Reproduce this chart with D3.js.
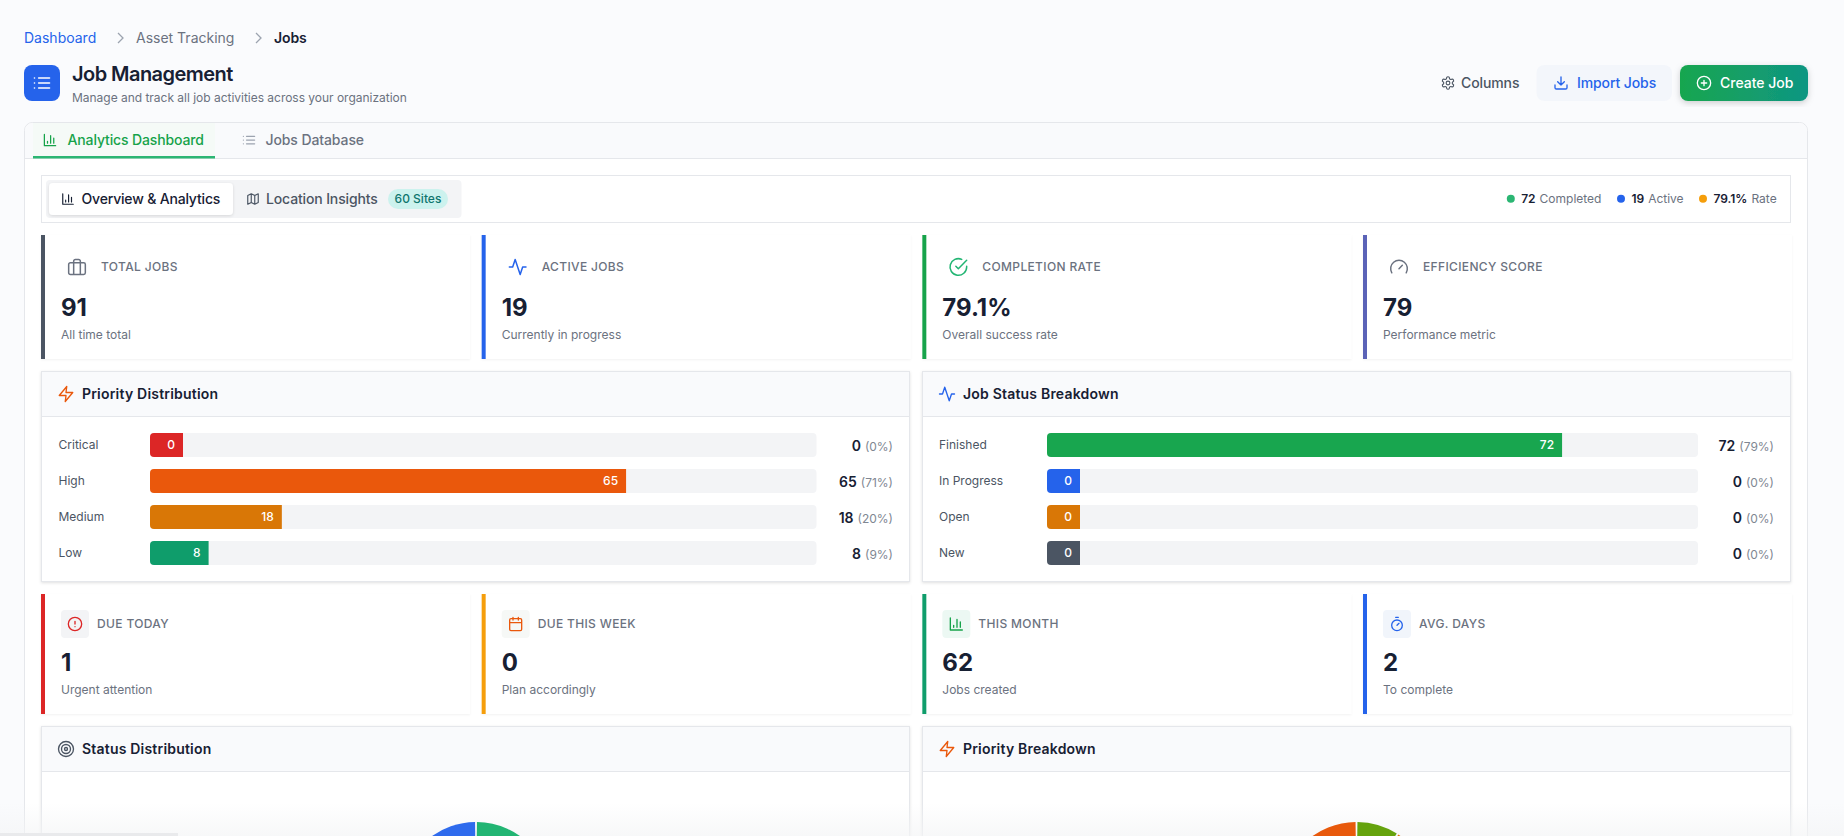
<!DOCTYPE html>
<html>
<head>
<meta charset="utf-8">
<title>Job Management</title>
<script src="https://cdn.jsdelivr.net/npm/d3@7"></script>
<style>
  html, body { margin: 0; padding: 0; overflow: hidden; background: #fafbfd; }
  svg { display: block; font-family: Inter, "Noto Sans", sans-serif; }
</style>
</head>
<body>
<div id="page"></div>
<script>
// ===== chart data
var crumbs = ["Dashboard", "Asset Tracking", "Jobs"];

var kpiLabels = ["TOTAL JOBS", "ACTIVE JOBS", "COMPLETION RATE", "EFFICIENCY SCORE"];
var kpiValues = ["91", "19", "79.1%", "79"];
var kpiNotes = ["All time total", "Currently in progress", "Overall success rate", "Performance metric"];

var dueLabels = ["DUE TODAY", "DUE THIS WEEK", "THIS MONTH", "AVG. DAYS"];
var dueValues = ["1", "0", "62", "2"];
var dueNotes = ["Urgent attention", "Plan accordingly", "Jobs created", "To complete"];

var priorityNames = ["Critical", "High", "Medium", "Low"];
var priorityCounts = [0, 65, 18, 8];
var priorityShares = ["0%", "71%", "20%", "9%"];

var statusNames = ["Finished", "In Progress", "Open", "New"];
var statusCounts = [72, 0, 0, 0];
var statusShares = ["79%", "0%", "0%", "0%"];

var totalJobs = 91;

var statusPieNames = ["Completed", "Active"];
var statusPieValues = [72, 19];
var priorityPieNames = ["Low", "Medium", "High"];
var priorityPieValues = [8, 18, 65];

var summaryValues = ["72", "19", "79.1%"];
var summaryNames = ["Completed", "Active", "Rate"];

// ===== colours
var kpiColors = ["#4b5563", "#2563eb", "#16a34a", "#5b63b7"];
var dueColors = ["#dc2626", "#f59e0b", "#0f9d6b", "#2563eb"];
var dueIconColors = ["#dc2626", "#ea580c", "#16a34a", "#2563eb"];
var dueBoxColors = ["#f3f4f6", "#f6f8f6", "#ecf8f3", "#f1f5fb"];
var priorityColors = ["#dc2626", "#ea580c", "#d97706", "#0f9d6b"];
var statusColors = ["#18a64f", "#2563eb", "#d97706", "#4b5563"];
var statusPieColors = ["#22b573", "#2f6bed"];
var priorityPieColors = ["#65a30d", "#d97706", "#e8590c"];
var summaryColors = ["#2bb673", "#2563eb", "#f59e0b"];
var ink = "#172033", muted = "#6b7280", soft = "#4b5563", line = "#e5e7eb";

// ===== lucide style icons
var icons = {
  list: "M8 6h13M8 12h13M8 18h13M3 6h.01M3 12h.01M3 18h.01",
  bars: "M3 3v18h18M18 17V9M13 17V5M8 17v-3",
  map: "M9 3 3 6v15l6-3 6 3 6-3V3l-6 3-6-3zM9 3v15M15 6v15",
  gear: "M12.22 2h-.44a2 2 0 0 0-2 2v.18a2 2 0 0 1-1 1.73l-.43.25a2 2 0 0 1-2 0l-.15-.08a2 2 0 0 0-2.73.73l-.22.38a2 2 0 0 0 .73 2.73l.15.1a2 2 0 0 1 1 1.72v.51a2 2 0 0 1-1 1.74l-.15.09a2 2 0 0 0-.73 2.73l.22.38a2 2 0 0 0 2.73.73l.15-.08a2 2 0 0 1 2 0l.43.25a2 2 0 0 1 1 1.73V20a2 2 0 0 0 2 2h.44a2 2 0 0 0 2-2v-.18a2 2 0 0 1 1-1.73l.43-.25a2 2 0 0 1 2 0l.15.08a2 2 0 0 0 2.73-.73l.22-.39a2 2 0 0 0-.73-2.73l-.15-.08a2 2 0 0 1-1-1.74v-.5a2 2 0 0 1 1-1.74l.15-.09a2 2 0 0 0 .73-2.73l-.22-.38a2 2 0 0 0-2.73-.73l-.15.08a2 2 0 0 1-2 0l-.43-.25a2 2 0 0 1-1-1.73V4a2 2 0 0 0-2-2zM12 9a3 3 0 1 0 0 6 3 3 0 0 0 0-6z",
  download: "M21 15v4a2 2 0 0 1-2 2H5a2 2 0 0 1-2-2v-4M7 10l5 5 5-5M12 15V3",
  plus: "M12 2a10 10 0 1 0 0 20 10 10 0 0 0 0-20zM8 12h8M12 8v8",
  briefcase: "M4 7h16a2 2 0 0 1 2 2v10a2 2 0 0 1-2 2H4a2 2 0 0 1-2-2V9a2 2 0 0 1 2-2zM16 21V5a2 2 0 0 0-2-2h-4a2 2 0 0 0-2 2v16",
  activity: "M22 12h-4l-3 9L9 3l-3 9H2",
  check: "M22 11.08V12a10 10 0 1 1-5.93-9.14M22 4 12 14.01l-3-3",
  gauge: "M12 14l4-4M3.34 19a10 10 0 1 1 17.32 0",
  zap: "M13 2 3 14h9l-1 8 10-12h-9l1-8z",
  alert: "M12 2a10 10 0 1 0 0 20 10 10 0 0 0 0-20zM12 8v4M12 16h.01",
  calendar: "M5 4h14a2 2 0 0 1 2 2v14a2 2 0 0 1-2 2H5a2 2 0 0 1-2-2V6a2 2 0 0 1 2-2zM16 2v4M8 2v4M3 10h18",
  timer: "M10 2h4M12 14l3-3M12 22a8 8 0 1 0 0-16 8 8 0 0 0 0 16z",
  target: "M12 2a10 10 0 1 0 0 20 10 10 0 0 0 0-20zM12 6a6 6 0 1 0 0 12 6 6 0 0 0 0-12zM12 10a2 2 0 1 0 0 4 2 2 0 0 0 0-4z"
};

var width = 1844, height = 836;
var svg = d3.select("#page").append("svg").attr("width", width).attr("height", height);
var defs = svg.append("defs");

// ===== helpers
function text(x, y, str, size, weight, color, anchor, spacing) {
  return svg.append("text")
    .attr("x", x).attr("y", y).attr("dy", "0.35em")
    .attr("font-size", size).attr("font-weight", weight)
    .attr("fill", color).attr("text-anchor", anchor || "start")
    .attr("letter-spacing", spacing || null)
    .text(str);
}
function box(x, y, w, h, fill, r, stroke) {
  return svg.append("rect")
    .attr("x", x).attr("y", y).attr("width", w).attr("height", h)
    .attr("rx", r || 0).attr("fill", fill)
    .attr("stroke", stroke || "none");
}
function icon(name, cx, cy, size, color, sw) {
  var k = size / 24;
  svg.append("path")
    .attr("d", icons[name])
    .attr("transform", "translate(" + (cx - size / 2) + "," + (cy - size / 2) + ") scale(" + k + ")")
    .attr("fill", "none").attr("stroke", color)
    .attr("stroke-width", sw || 2)
    .attr("stroke-linecap", "round").attr("stroke-linejoin", "round");
}
function shadow(id, dy, blur, op) {
  var f = defs.append("filter").attr("id", id)
    .attr("x", "-5%").attr("y", "-10%").attr("width", "110%").attr("height", "125%");
  f.append("feDropShadow").attr("dx", 0).attr("dy", dy).attr("stdDeviation", blur)
    .attr("flood-color", "#000").attr("flood-opacity", op);
}
shadow("cardShadow", 1, 1.5, 0.12);
shadow("softShadow", 1, 1, 0.05);
shadow("btnShadow", 2, 3, 0.18);

// ===== breadcrumb
text(24, 38, crumbs[0], 14, 400, "#2563eb");
d3.range(2).forEach(function (i) {
  var cx = [120, 258][i];
  svg.append("path").attr("d", "M" + (cx - 2) + " 33l5 5-5 5")
    .attr("fill", "none").attr("stroke", "#9ca3af").attr("stroke-width", 1.3);
});
text(136, 38, crumbs[1], 14, 400, muted);
text(274, 38, crumbs[2], 14, 600, ink, "start", "-0.1px");

// ===== page heading
box(24, 65, 36, 36, "#2563eb", 8);
icon("list", 42, 83, 20, "#fff", 2);
text(72, 74, "Job Management", 20, 600, ink, "start", "-0.55px");
text(72, 98, "Manage and track all job activities across your organization", 12, 400, muted, "start", "-0.02px");

// buttons
icon("gear", 1448, 83, 15, soft, 1.8);
text(1461, 83, "Columns", 14, 500, soft, "start", "-0.1px");
box(1536.5, 65, 135.5, 36, "#f3f6fb", 8);
icon("download", 1561, 83, 16, "#2563eb", 2);
text(1577, 83, "Import Jobs", 14, 500, "#2563eb", "start", "-0.1px");

var grad = defs.append("linearGradient").attr("id", "createGrad");
grad.append("stop").attr("offset", "0%").attr("stop-color", "#18a64f");
grad.append("stop").attr("offset", "100%").attr("stop-color", "#0f9682");
box(1680, 65, 128, 36, "url(#createGrad)", 8).attr("filter", "url(#btnShadow)");
icon("plus", 1704, 83, 16, "#fff", 2);
text(1720, 83, "Create Job", 14, 500, "#fff");

// ===== tab card
box(24.5, 122.5, 1783, 760, "#fff", 8, line);
svg.append("path").attr("d", "M25 158V131a8 8 0 0 1 8-8H1799a8 8 0 0 1 8 8V158z").attr("fill", "#f9fafc");
box(24, 158, 1784, 1, line);
box(33, 123, 182, 35, "#f5faf7");
box(33, 156, 182, 2.5, "#2bb673");
icon("bars", 50, 140, 15, "#16a34a", 2);
text(67.5, 140, "Analytics Dashboard", 14, 500, "#16a34a", "start", "-0.13px");
icon("list", 249, 140, 15, "#9ca3af", 2);
text(265.5, 140, "Jobs Database", 14, 500, muted, "start", "-0.1px");

// ===== toolbar
box(41.5, 175.5, 1749, 47, "#fff", 0, line);
box(46, 180, 415.5, 38, "#f3f4f6", 4);
box(49, 183, 184, 32, "#fff", 4).attr("filter", "url(#cardShadow)");
icon("bars", 68, 199, 14, ink, 2);
text(81.5, 199, "Overview & Analytics", 14, 500, ink, "start", "-0.18px");
icon("map", 253, 199, 14, soft, 2);
text(266, 199, "Location Insights", 14, 500, soft, "start", "-0.14px");
box(388, 189, 60, 20, "#ccf2ee", 10);
text(418, 199, "60 Sites", 12, 500, "#0f766e", "middle");

// summary chips in the toolbar
var summaryDots = [1510.8, 1621, 1703];
summaryValues.forEach(function (v, i) {
  svg.append("circle").attr("cx", summaryDots[i]).attr("cy", 198.7).attr("r", 4).attr("fill", summaryColors[i]);
  var t = text(summaryDots[i] + 10.4, 198.7, v, 12, 600, ink);
  t.append("tspan").attr("dx", 4).attr("font-weight", 400).attr("fill", muted).text(summaryNames[i]);
});

// ===== kpi rows
var columnScale = d3.scalePoint().domain(d3.range(4)).range([41, 1363]);

function kpiRow(top, bottom, labels, values, notes, colors, rowOpts) {
  labels.forEach(function (label, i) {
    var x = columnScale(i);
    box(x, top, 429, bottom - top, "#fff").attr("filter", "url(#softShadow)");
    box(x, top, 4, bottom - top, colors[i]);
    if (rowOpts.boxes) {
      box(x + 20, top + 16, 28, 28, rowOpts.boxes[i], 4);
      icon(rowOpts.icons[i], x + 34, top + 30, 16, rowOpts.iconColors[i], 2);
    } else {
      icon(rowOpts.icons[i], x + 36, top + 32, 20, rowOpts.iconColors[i], 1.8);
    }
    text(x + rowOpts.labelOffset, top + (rowOpts.boxes ? 30 : 32), label, 12, 500, muted, "start", "0.35px");
    text(x + 20, top + (rowOpts.boxes ? 69 : 73), values[i], 24, 700, ink);
    text(x + 20, top + (rowOpts.boxes ? 96 : 100), notes[i], 12, 400, muted);
  });
}

kpiRow(235, 359, kpiLabels, kpiValues, kpiNotes, kpiColors, {
  icons: ["briefcase", "activity", "check", "gauge"],
  iconColors: ["#6b7280", "#2563eb", "#22b573", "#6b7280"],
  labelOffset: 60
});
kpiRow(594, 714, dueLabels, dueValues, dueNotes, dueColors, {
  icons: ["alert", "calendar", "bars", "timer"],
  iconColors: dueIconColors,
  boxes: dueBoxColors,
  labelOffset: 56
});

// ===== panels
function panel(x, top, w, bottom, title, iconName, iconColor) {
  box(x + 0.5, top + 0.5, w, bottom - top, "#fff", 0, line).attr("filter", "url(#cardShadow)");
  box(x + 1, top + 1, w - 1, 44, "#f9fafc");
  box(x, top + 45, w + 1, 1, line);
  icon(iconName, x + 25, top + 23, 18, iconColor, 1.8);
  text(x + 41, top + 23, title, 14, 600, ink, "start", "0.2px");
}

panel(41, 371, 868, 581, "Priority Distribution", "zap", "#ea580c");
panel(922, 371, 868, 581, "Job Status Breakdown", "activity", "#2563eb");
panel(41, 726, 868, 900, "Status Distribution", "target", "#4b5563");
panel(922, 726, 868, 900, "Priority Breakdown", "zap", "#ea580c");

// ===== horizontal bars
function barChart(id, names, counts, shares, colors, labelX, trackX0, trackX1, endX) {
  var x = d3.scaleLinear().domain([0, totalJobs]).range([0, trackX1 - trackX0]);
  var y = d3.scaleBand().domain(names).range([433, 565]).paddingInner(1 / 3);
  var h = y.bandwidth();
  var minBar = 33; // the page keeps room for the number in empty bars
  var rows = svg.append("g").selectAll("g").data(names).enter().append("g")
    .attr("transform", function (d) { return "translate(0," + y(d) + ")"; });

  rows.append("clipPath").attr("id", function (d, i) { return id + i; })
    .append("rect").attr("x", trackX0).attr("width", trackX1 - trackX0).attr("height", h).attr("rx", 4);
  rows.append("rect").attr("x", trackX0).attr("width", trackX1 - trackX0).attr("height", h)
    .attr("rx", 4).attr("fill", "#f3f4f6");
  rows.append("rect").attr("x", trackX0).attr("height", h)
    .attr("width", function (d, i) { return Math.max(minBar, x(counts[i])); })
    .attr("fill", function (d, i) { return colors[i]; })
    .attr("clip-path", function (d, i) { return "url(#" + id + i + ")"; });
  rows.append("text").attr("x", labelX).attr("y", h / 2).attr("dy", "0.35em")
    .attr("font-size", 12).attr("fill", soft).text(function (d) { return d; });
  rows.append("text")
    .attr("x", function (d, i) { return trackX0 + Math.max(minBar, x(counts[i])) - 8; })
    .attr("y", h / 2).attr("dy", "0.35em").attr("text-anchor", "end")
    .attr("font-size", 12).attr("font-weight", 500).attr("fill", "#fff")
    .text(function (d, i) { return counts[i]; });

  var end = rows.append("text").attr("x", endX).attr("y", h / 2 + 0.5).attr("dy", "0.35em").attr("text-anchor", "end");
  end.append("tspan").attr("font-size", 14).attr("font-weight", 600).attr("fill", ink)
    .text(function (d, i) { return counts[i]; });
  end.append("tspan").attr("dx", 4).attr("font-size", 12).attr("fill", "#808792")
    .text(function (d, i) { return "(" + shares[i] + ")"; });
}

barChart("prio", priorityNames, priorityCounts, priorityShares, priorityColors, 58.5, 150, 816.5, 893);
barChart("stat", statusNames, statusCounts, statusShares, statusColors, 939, 1047, 1698, 1774);

// ===== faint fade at the very bottom of the screenshot, under the pies
var fade = defs.append("linearGradient").attr("id", "bottomFade").attr("x2", 0).attr("y2", 1);
fade.append("stop").attr("offset", "0%").attr("stop-color", "#f4f5f6").attr("stop-opacity", 0);
fade.append("stop").attr("offset", "100%").attr("stop-color", "#f4f5f6").attr("stop-opacity", 0.7);
box(0, 803, width, 33, "url(#bottomFade)");
box(0, 833, 178, 3, "#e9eaec");

// ===== pies, cut off by the bottom of the window
function pieChart(cx, cy, radius, values, colors) {
  var pie = d3.pie().sort(null).padAngle(0.025);
  var arc = d3.arc().innerRadius(0).outerRadius(radius);
  svg.append("g").attr("transform", "translate(" + cx + "," + cy + ")")
    .selectAll("path").data(pie(values)).enter().append("path")
    .attr("d", arc)
    .attr("fill", function (d, i) { return colors[i]; });
}
pieChart(476, 898, 76, statusPieValues, statusPieColors);
pieChart(1356.5, 898, 76, priorityPieValues, priorityPieColors);
</script>
</body>
</html>
